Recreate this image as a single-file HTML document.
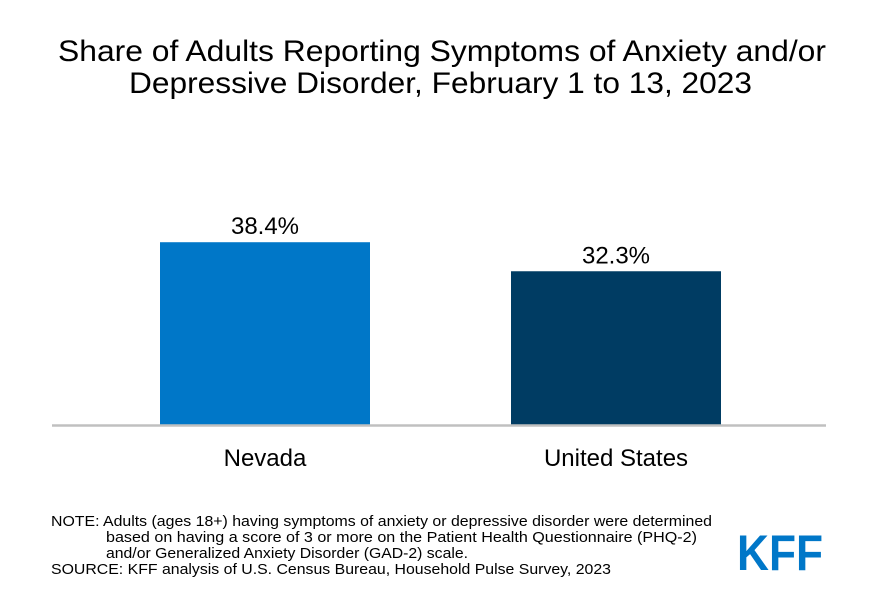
<!DOCTYPE html>
<html><head><meta charset="utf-8"><style>
html,body{margin:0;padding:0;background:#fff;}
svg{display:block;font-family:"Liberation Sans",Arial,sans-serif;}
</style></head><body>
<svg width="885" height="602" viewBox="0 0 885 602">
<text x="58" y="61" font-size="30" textLength="768" lengthAdjust="spacingAndGlyphs" fill="#000">Share of Adults Reporting Symptoms of Anxiety and/or</text>
<text x="129" y="93" font-size="30" textLength="623" lengthAdjust="spacingAndGlyphs" fill="#000">Depressive Disorder, February 1 to 13, 2023</text>
<g id="bars"></g>
<line x1="52" y1="425.5" x2="826" y2="425.5" stroke="#c0c0c0" stroke-width="2.5"/>
<g font-size="15" fill="#000">
<text x="51" y="526" textLength="661" lengthAdjust="spacingAndGlyphs">NOTE: Adults (ages 18+) having symptoms of anxiety or depressive disorder were determined</text>
<text x="106" y="542" textLength="591" lengthAdjust="spacingAndGlyphs">based on having a score of 3 or more on the Patient Health Questionnaire (PHQ-2)</text>
<text x="106" y="558" textLength="362" lengthAdjust="spacingAndGlyphs">and/or Generalized Anxiety Disorder (GAD-2) scale.</text>
<text x="51" y="574" textLength="560" lengthAdjust="spacingAndGlyphs">SOURCE: KFF analysis of U.S. Census Bureau, Household Pulse Survey, 2023</text>
</g>
<text x="737" y="570" font-size="50" font-weight="bold" fill="#0077c8" textLength="86" lengthAdjust="spacingAndGlyphs">KFF</text>
</svg>
<script>
const categories = ["Nevada", "United States"];
const values = [38.4, 32.3];
const labels = ["38.4%", "32.3%"];
const colors = ["#0077c8", "#003c63"];
const NS = "http://www.w3.org/2000/svg";
const baseY = 425, pxPer = 4.76;
function yScale(v){ return baseY - v * pxPer; }
function xCenter(i){ return 265 + i * 351; }
const g = document.getElementById("bars");
values.forEach((v, i) => {
  const r = document.createElementNS(NS, "rect");
  r.setAttribute("x", xCenter(i) - 105);
  r.setAttribute("width", 210);
  r.setAttribute("y", yScale(v));
  r.setAttribute("height", baseY - yScale(v));
  r.setAttribute("fill", colors[i]);
  
  
  g.appendChild(r);
  const t = document.createElementNS(NS, "text");
  t.setAttribute("x", xCenter(i));
  t.setAttribute("y", yScale(v) - 8);
  t.setAttribute("text-anchor", "middle");
  t.setAttribute("font-size", "24");
  t.textContent = labels[i];
  
  
  g.appendChild(t);
  const c = document.createElementNS(NS, "text");
  c.setAttribute("x", xCenter(i));
  c.setAttribute("y", 466);
  c.setAttribute("text-anchor", "middle");
  c.setAttribute("font-size", "24");
  c.textContent = categories[i];
  
  
  g.appendChild(c);
});
</script>
</body></html>
